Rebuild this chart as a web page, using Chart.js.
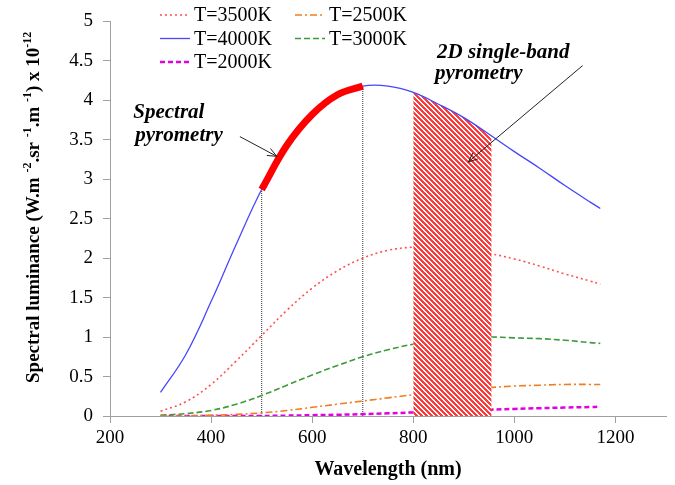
<!DOCTYPE html>
<html>
<head>
<meta charset="utf-8">
<script src="https://cdn.jsdelivr.net/npm/chart.js@4.4.1/dist/chart.umd.min.js"></script>
<style>
  html, body { margin: 0; padding: 0; background: #fff; }
  #wrap { width: 675px; height: 485px; }
</style>
</head>
<body>
<div id="wrap"><canvas id="planckChart"></canvas></div>
<script>
// wavelengths (nm) and spectral luminance (x 10^12)
const wavelengths = [300, 350, 400, 450, 500, 550, 600, 650, 700, 750, 800, 850, 900, 950, 1000, 1050, 1100, 1150, 1170];
const t4000 = [0.30, 0.78, 1.45, 2.18, 2.87, 3.43, 3.82, 4.07, 4.18, 4.18, 4.10, 3.95, 3.78, 3.57, 3.35, 3.14, 2.92, 2.71, 2.63];
const t3500 = [0.06, 0.18, 0.40, 0.70, 1.02, 1.34, 1.62, 1.84, 2.00, 2.10, 2.14, 2.15, 2.11, 2.06, 1.99, 1.90, 1.80, 1.71, 1.67];
const t3000 = [0.01, 0.03, 0.07, 0.15, 0.26, 0.39, 0.52, 0.64, 0.75, 0.84, 0.91, 0.96, 0.98, 1.00, 0.99, 0.98, 0.96, 0.93, 0.92];
const t2500 = [0.00, 0.00, 0.01, 0.02, 0.04, 0.07, 0.11, 0.15, 0.19, 0.23, 0.27, 0.31, 0.34, 0.36, 0.38, 0.39, 0.40, 0.40, 0.40];
const t2000 = [0.00, 0.00, 0.00, 0.00, 0.00, 0.005, 0.01, 0.016, 0.024, 0.034, 0.045, 0.057, 0.068, 0.079, 0.09, 0.099, 0.107, 0.114, 0.117];

// spectral pyrometry window (thick red part of T=4000K)
const spectralX = [500, 550, 600, 650, 700];
const spectralY = [2.87, 3.43, 3.82, 4.07, 4.18];
// 2D single-band window (hatched)
const bandX = [800, 850, 900, 950, 955];
const bandY = [4.10, 3.95, 3.78, 3.57, 3.55];
// dotted verticals at window limits
const markerX = [500, 700];
const markerY = [2.87, 4.18];

const xTicks = [200, 400, 600, 800, 1000, 1200];
const legendOrder = ['T=3500K', 'T=2500K', 'T=4000K', 'T=3000K', 'T=2000K'];

const FONT = '"Liberation Serif", "Times New Roman", serif';
Chart.defaults.font.family = FONT;
Chart.defaults.color = '#000';

const pts = (xs, ys) => xs.map((x, i) => ({ x: x, y: ys[i] }));

function makeHatch() {
    const c = document.createElement('canvas');
    c.width = 5; c.height = 5;
    const g = c.getContext('2d');
    g.fillStyle = '#ffffff';
    g.fillRect(0, 0, 5, 5);
    g.fillStyle = '#ff3a3a';
    for (let y = 0; y < 5; y++) {
        for (let x = 0; x < 5; x++) {
            if ((((x - y) % 5) + 5) % 5 < 3) g.fillRect(x, y, 1, 1);
        }
    }
    return g.createPattern(c, 'repeat');
}

function curve(label, ys, color, width, dash) {
    return {
        label: label,
        data: pts(wavelengths, ys),
        borderColor: color,
        borderWidth: width,
        borderDash: dash,
        pointRadius: 0,
        fill: false,
        tension: 0.4
    };
}

const datasets = [
    {
        label: 'spectral',
        data: pts(spectralX, spectralY),
        borderColor: '#ff0000',
        borderWidth: 7,
        pointRadius: 0,
        fill: false,
        tension: 0.4
    },
    curve('T=4000K', t4000, '#4646ff', 1.3, []),
    {
        label: 'band',
        data: pts(bandX, bandY),
        borderWidth: 0,
        borderColor: 'rgba(0,0,0,0)',
        backgroundColor: makeHatch(),
        pointRadius: 0,
        fill: 'origin',
        tension: 0.4
    },
    curve('T=3500K', t3500, '#ff5050', 1.6, [2, 3]),
    curve('T=2500K', t2500, '#f07d20', 1.6, [7, 3, 2, 3]),
    curve('T=3000K', t3000, '#3d9a3d', 1.6, [6, 3]),
    curve('T=2000K', t2000, '#e000e0', 2.5, [5, 3])
];
markerX.forEach((x, i) => {
    datasets.push({
        label: 'marker',
        data: [{ x: x, y: 0 }, { x: x, y: markerY[i] }],
        borderColor: '#555555',
        borderWidth: 1.2,
        borderDash: [1, 1],
        pointRadius: 0,
        fill: false
    });
});

// custom legend, two columns filled row by row
const legendPlugin = {
    id: 'sideLegend',
    afterDraw(chart) {
        const ctx = chart.ctx;
        ctx.save();
        ctx.font = '20px ' + FONT;
        ctx.textBaseline = 'middle';
        ctx.fillStyle = '#000';
        legendOrder.forEach((name, i) => {
            const ds = chart.data.datasets.find(d => d.label === name);
            const x = 160 + (i % 2) * 135;
            const y = 15 + Math.floor(i / 2) * 23.5;
            ctx.strokeStyle = ds.borderColor;
            ctx.lineWidth = ds.borderWidth;
            ctx.setLineDash(ds.borderDash);
            ctx.beginPath();
            ctx.moveTo(x, y);
            ctx.lineTo(x + 30, y);
            ctx.stroke();
            ctx.fillText(name, x + 34, y + 1);
        });
        ctx.restore();
    }
};

function arrow(ctx, x1, y1, x2, y2) {
    const a = Math.atan2(y2 - y1, x2 - x1);
    ctx.beginPath();
    ctx.moveTo(x1, y1);
    ctx.lineTo(x2, y2);
    ctx.moveTo(x2 - 10 * Math.cos(a - 0.4), y2 - 10 * Math.sin(a - 0.4));
    ctx.lineTo(x2, y2);
    ctx.lineTo(x2 - 10 * Math.cos(a + 0.4), y2 - 10 * Math.sin(a + 0.4));
    ctx.stroke();
}

// annotations placed in data units
const notePlugin = {
    id: 'notes',
    afterDraw(chart) {
        const ctx = chart.ctx;
        const xs = chart.scales.x, ys = chart.scales.y;
        const px = v => xs.getPixelForValue(v), py = v => ys.getPixelForValue(v);
        ctx.save();
        ctx.fillStyle = '#000';
        ctx.font = 'italic bold 21px ' + FONT;
        ctx.textBaseline = 'alphabetic';
        ctx.fillText('Spectral', px(246), py(3.77));
        ctx.fillText('pyrometry', px(250), py(3.49));
        ctx.fillText('2D single-band', px(847), py(4.53));
        ctx.fillText('pyrometry', px(843), py(4.27));
        ctx.strokeStyle = '#222';
        ctx.lineWidth = 1;
        arrow(ctx, px(457), py(3.54), px(530), py(3.29));
        arrow(ctx, px(1135), py(4.44), px(909), py(3.22));

        // y axis title with superscripts
        const parts = [['Spectral luminance (W.m ', false], ['-2', true], ['.sr ', false], ['-1', true],
            ['.m ', false], ['-1', true], [') x 10', false], ['-12', true]];
        ctx.translate(39, 383);
        ctx.rotate(-Math.PI / 2);
        let x = 0;
        parts.forEach(([t, sup]) => {
            ctx.font = (sup ? 'bold 12px ' : 'bold 19px ') + FONT;
            ctx.fillText(t, x, sup ? -8 : 0);
            x += ctx.measureText(t).width;
        });
        ctx.restore();
    }
};

new Chart(document.getElementById('planckChart'), {
    type: 'line',
    data: { datasets: datasets },
    options: {
        responsive: true,
        maintainAspectRatio: false,
        animation: false,
        layout: { padding: { left: 0, right: 9, top: 19, bottom: 0 } },
        plugins: {
            legend: { display: false },
            tooltip: { enabled: false }
        },
        scales: {
            x: {
                type: 'linear',
                min: 200,
                max: 1300,
                afterBuildTicks: s => { s.ticks = xTicks.map(v => ({ value: v })); },
                afterFit: s => { s.height = 69; },
                ticks: { font: { size: 19 }, padding: 4, maxRotation: 0, callback: v => String(v) },
                grid: { drawOnChartArea: false, tickLength: 7, color: '#a0a0a0' },
                border: { color: '#a0a0a0' },
                title: {
                    display: true,
                    text: 'Wavelength (nm)',
                    font: { size: 20, weight: 'bold' },
                    padding: { top: 4, bottom: 3 }
                }
            },
            y: {
                min: 0,
                max: 5,
                afterFit: s => { s.width = 110; },
                ticks: { stepSize: 0.5, font: { size: 19 }, padding: 10, callback: v => String(v) },
                grid: { drawOnChartArea: false, tickLength: 7, color: '#a0a0a0' },
                border: { color: '#a0a0a0' }
            }
        }
    },
    plugins: [legendPlugin, notePlugin]
});
</script>
</body>
</html>
